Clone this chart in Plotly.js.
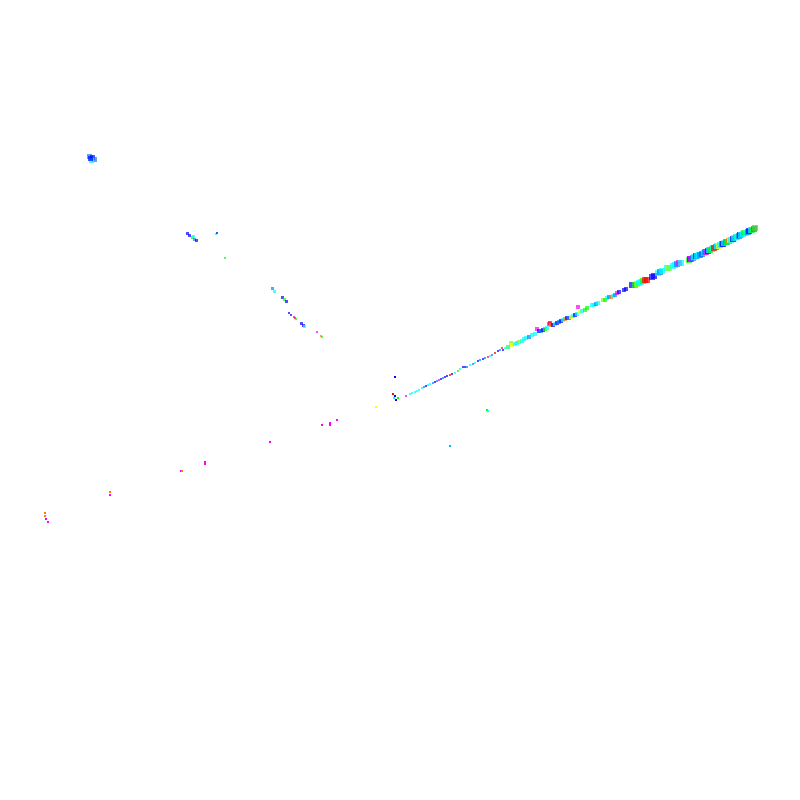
<!DOCTYPE html>
<html>
<head>
<meta charset="utf-8">
<script src="https://cdn.plot.ly/plotly-3.0.1.min.js"></script>
<style>
  html, body { margin: 0; padding: 0; background: #fff; }
  #plot { width: 800px; height: 800px; }
  /* hard edged pixels, as in the original */
  #plot path.point { shape-rendering: crispEdges; }
</style>
</head>
<body>
<div id="plot"></div>
<script>
/* main streak, from the centre to the upper right */
var lineX = [406,410,412,415,417,419,422,424,426,428,430,433,435,437,439,441,443,445,447,
  450,452,455,458,460,463,465,467,470,473,475,478,480,483,485,488,490,492,495,498,500,502,503,505,508,511,512,515,517,519,522,524,
  526,529,532,535,537,539,541,543,545,547,549,550,551,553,555,557,559,561,563,565,567,569,571,573,575,577,578,580,582,585,587,
  592,594,596,598,603,605,607,609,611,613,615,617,619,624,626,632,635,637,639,641,643,645,
  647,652,654,658,660,662,667,669,673,675,677,679,681,
  689,690,691,693,694,696,697,699,700,702,704,705,706,708,709,710,712,713,714,716,717,719,720,722,723,724,726,727,729,730,731,733,734,736,737,739,740,741,743,744,746,748,749,751,752,754,755];
var lineY = [396,394,393,392,391,390,388,387,386,385,384,383,382,381,380,379,378,377,376,
  375,374,373,371,369,367,367,367,365,364,363,361,360,359,358,357,356,355,353,351,350,348,350,348,347,343,345,344,343,342,341,339,
  338,337,335,334,329,331,331,330,329,328,324,323,325,325,324,323,322,321,320,319,318,318,317,316,315,314,307,312,311,310,308,
  305,305,304,303,300,300,298,297,297,296,295,293,292,290,289,285,285,284,283,282,281,280,
  280,277,276,273,272,271,268,268,266,265,264,263,263,
  260,259,259,258,257,256,256,255,255,254,253,252,252,251,250,250,249,248,248,247,246,246,245,244,244,243,242,242,241,240,240,239,238,237,237,236,235,235,234,233,233,232,231,230,230,229,228];
var lineHue = [0.83,0.5,0.5,0.5,0.5,0.5,0.5,0.58,0.67,0.5,0.5,0.58,0.67,0.58,0.83,0.67,0.58,0.67,0.67,
  0,0.67,0.5,0.33,0.5,0.67,0.67,0.58,0.5,0.58,0.5,0.67,0.58,0.67,0.58,0.9,0.5,0.58,0,0.67,0.58,0.95,0.67,0.5,0.4,0.25,0.17,0.5,0.5,0.25,0.5,0.5,
  0.5,0.58,0.5,0.5,0.83,0.67,0.58,0.67,0.33,0.5,0.83,0,0.08,0.67,0.5,0.67,0.58,0.67,0.5,0.08,0.67,0.58,0.17,0.5,0.67,0.5,0.83,0.17,0.5,0.33,0.33,
  0.5,0.5,0.58,0.5,0.25,0.33,0.5,0.58,0.08,0.5,0.58,0.83,0.67,0.67,0.67,0.67,0.33,0.25,0.5,0.5,0.33,0,
  0,0.67,0.67,0.5,0.58,0.5,0.5,0.25,0.5,0.5,0.58,0.83,0.5,
  0.33,0.67,0.83,0.58,0.5,0.67,0.5,0.5,0.58,0.6,0.5,0.58,0.83,0.67,0.5,0.33,0.33,0.5,0,0.58,0.5,0.17,0.5,0.58,0.67,0.5,0.58,0.33,0.08,0.17,0.5,0.67,0.5,0.33,0.5,0.58,0.67,0.5,0.5,0.33,0.5,0.58,0.67,0.5,0.33,0.83,0.33];

/* upper left streak */
var upX = [89,92,94,91,90,187,189,192,194,196,193,216,217,225,272,274,282,284,286,289,291,294,295,296,301,303,304,317,321,322];
var upY = [156,157,159,160,158,233,235,237,239,240,236,234,233,258,288,291,297,299,301,313,315,317,318,319,323,325,326,332,336,337];
var upHue = [0.58,0.67,0.58,0.5,0.67,0.67,0.67,0.33,0.58,0.67,0.5,0.5,0.67,0.33,0.58,0.5,0.67,0.33,0.67,0.67,0.67,0.83,0,0.33,0.67,0.67,0.5,0.83,0.08,0.33];
var upSize = [5,5,5,5,5,3,3,3,3,3,3,2,2,2,3,3,3,3,3,2,2,2,2,2,3,3,3,2,2,2];

/* loose points round the centre */
var midX = [395,393,395,394,398,396,376,487,488,450];
var midY = [377,394,396,398,398,400,407,410,411,446];
var midHue = [0.67,0,0.67,0.5,0.33,0.67,0.17,0.33,0.5,0.55];

/* lower left streak */
var lowX = [337,330,330,322,270,205,205,181,182,110,110,45,45,46,48];
var lowY = [420,423,425,425,442,462,464,471,471,492,495,513,516,519,522];
var lowHue = [0.83,0.83,0.83,0.83,0.83,0.83,0.83,0.83,0.08,0.08,0.83,0.08,0.08,0.83,0.83];

var hsv = [[0,'#ff0000'],[1/6,'#ffff00'],[2/6,'#00ff00'],[3/6,'#00ffff'],[4/6,'#0000ff'],[5/6,'#ff00ff'],[1,'#ff0000']];

function drawCloud(){
    // marks grow the further they sit from the centre
    var lineSize = lineX.map(function(x){ return 1.3 + (x - 400) * 0.016; });

    var base = { mode: 'markers', type: 'scatter', hoverinfo: 'skip' };
    var mk = function(color, size){
        return { symbol: 'square', color: color, size: size, colorscale: hsv, cmin: 0, cmax: 1, showscale: false, line: { width: 0 } };
    };

    var data = [
        Object.assign({}, base, { x: lineX, y: lineY, marker: mk(lineHue, lineSize) }),
        Object.assign({}, base, { x: upX, y: upY, marker: mk(upHue, upSize) }),
        Object.assign({}, base, { x: midX, y: midY, marker: mk(midHue, 1.8) }),
        Object.assign({}, base, { x: lowX, y: lowY, marker: mk(lowHue, 2.6) })
    ];

    var layout = {
        width: 800, height: 800,
        margin: { l: 0, r: 0, t: 0, b: 0 },
        showlegend: false,
        paper_bgcolor: '#ffffff', plot_bgcolor: '#ffffff',
        xaxis: { range: [0, 800], visible: false },
        yaxis: { range: [800, 0], visible: false }
    };
    Plotly.newPlot('plot', data, layout, { staticPlot: true });
}

drawCloud();
</script>
</body>
</html>
